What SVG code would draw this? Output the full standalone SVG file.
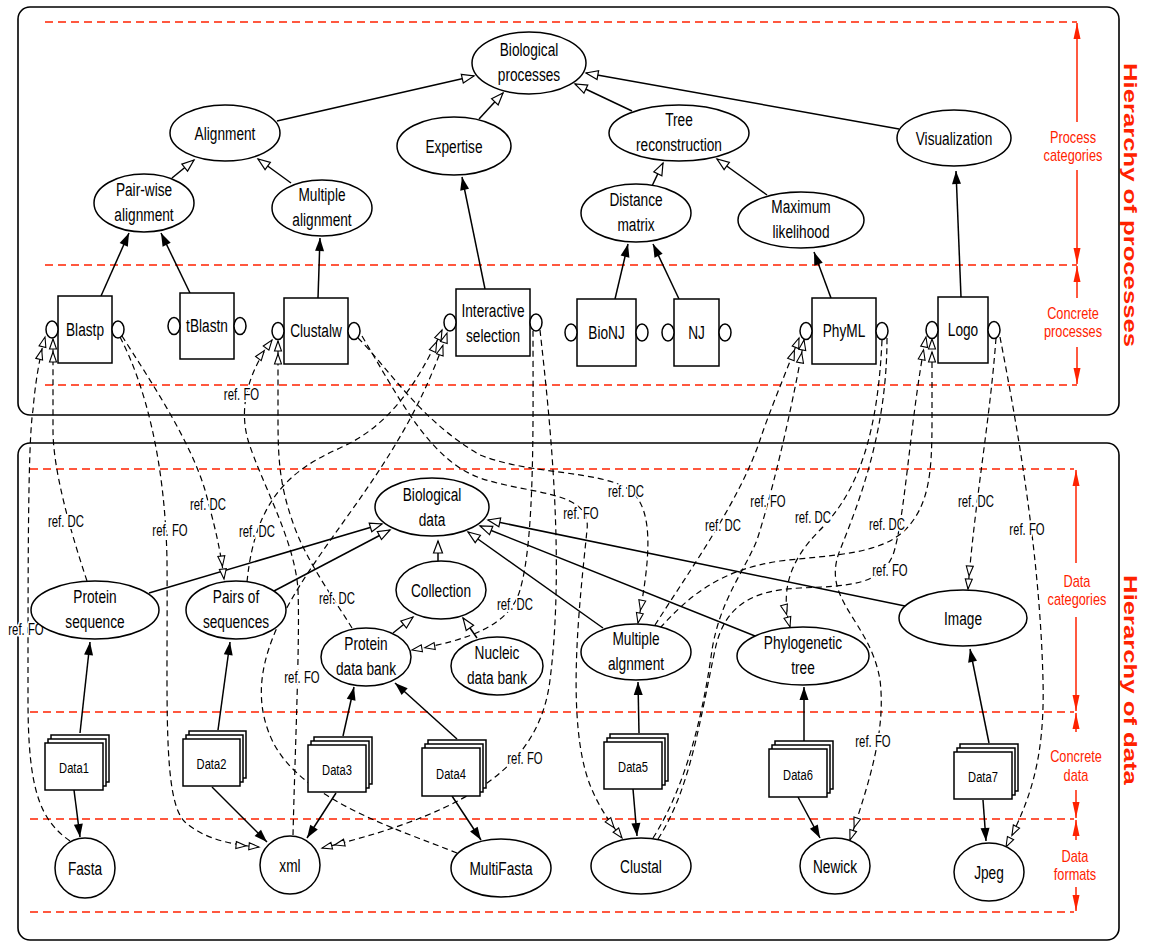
<svg xmlns="http://www.w3.org/2000/svg" width="1152" height="943" viewBox="0 0 1152 943">
<defs>
<style>
.frame{fill:none;stroke:#000;stroke-width:1.6}
.rl{stroke:#ff2200;stroke-width:1.6;stroke-dasharray:8 5;fill:none}
.ra{stroke:#ff2200;stroke-width:1.5;fill:none;marker-end:url(#ar)}
.nd ellipse,.nd rect{fill:#fff;stroke:#000;stroke-width:1.5}
.t{font-family:"Liberation Sans",Arial,sans-serif;font-size:19px;text-anchor:middle;fill:#000}
.dt{font-family:"Liberation Sans",Arial,sans-serif;font-size:15.5px;text-anchor:middle;fill:#000}
.lbl{font-family:"Liberation Sans",Arial,sans-serif;font-size:16px;text-anchor:middle;fill:#000;stroke:#fff;stroke-width:4;stroke-linejoin:round;paint-order:stroke}
.rt{font-family:"Liberation Sans",Arial,sans-serif;font-size:17px;text-anchor:middle;fill:#ff2200}
.big{font-family:"Liberation Sans",Arial,sans-serif;font-size:25.7px;font-weight:bold;text-anchor:middle;fill:#ff2200}
.ef{stroke:#000;stroke-width:1.5;fill:none;marker-end:url(#af)}
.eh{stroke:#000;stroke-width:1.5;fill:none;marker-end:url(#ah)}
.ed{stroke:#000;stroke-width:1.2;fill:none;stroke-dasharray:6 4;marker-end:url(#ad)}
</style>
<marker id="af" markerUnits="userSpaceOnUse" markerWidth="14" markerHeight="10" refX="13" refY="4.5" orient="auto" overflow="visible"><path d="M0,0 L13,4.5 L0,9 z" fill="#000"/></marker>
<marker id="ah" markerUnits="userSpaceOnUse" markerWidth="14" markerHeight="10" refX="13" refY="5" orient="auto" overflow="visible"><path d="M1,0.5 L13,5 L1,9.5 z" fill="#fff" stroke="#000" stroke-width="1.2"/></marker>
<marker id="ad" markerUnits="userSpaceOnUse" markerWidth="26" markerHeight="8" refX="24" refY="4" orient="auto" overflow="visible"><path d="M1,0.5 L11,4 L1,7.5 z M14,0.5 L24,4 L14,7.5 z" fill="#fff" stroke="#000" stroke-width="1.1"/></marker>
<marker id="ar" markerUnits="userSpaceOnUse" markerWidth="17" markerHeight="8" refX="16" refY="3.5" orient="auto" overflow="visible"><path d="M0,0 L16,3.5 L0,7 z" fill="#ff2200"/></marker>
</defs>
<rect width="1152" height="943" fill="#fff"/>

<g id="frames">
<rect class="frame" x="18" y="7" width="1101" height="408" rx="12"/>
<rect class="frame" x="18" y="443" width="1101" height="497" rx="12"/>
</g>

<g id="levels">
<path class="rl" d="M45,22 H1077 M45,265 H1077 M45,385 H1077"/>
<path class="rl" d="M30,469 H1074 M30,712 H1074 M30,819 H1074 M30,912 H1074"/>
<path class="ra" d="M1077,122 V23"/>
<path class="ra" d="M1077,170 V264"/>
<path class="ra" d="M1077,298 V266"/>
<path class="ra" d="M1077,347 V384"/>
<path class="ra" d="M1076,563 V470"/>
<path class="ra" d="M1076,617 V711"/>
<path class="ra" d="M1076,732 V713"/>
<path class="ra" d="M1076,790 V818"/>
<path class="ra" d="M1076,840 V820"/>
<path class="ra" d="M1076,887 V911"/>
<text class="rt" transform="translate(1073,0) scale(0.75,1)"><tspan x="0" y="143">Process</tspan><tspan x="0" y="161">categories</tspan></text>
<text class="rt" transform="translate(1073,0) scale(0.75,1)"><tspan x="0" y="319">Concrete</tspan><tspan x="0" y="337">processes</tspan></text>
<text class="rt" transform="translate(1077,0) scale(0.75,1)"><tspan x="0" y="587">Data</tspan><tspan x="0" y="605">categories</tspan></text>
<text class="rt" transform="translate(1076,0) scale(0.75,1)"><tspan x="0" y="762">Concrete</tspan><tspan x="0" y="781">data</tspan></text>
<text class="rt" transform="translate(1075,0) scale(0.75,1)"><tspan x="0" y="862">Data</tspan><tspan x="0" y="880">formats</tspan></text>
<text class="big" transform="translate(1124,205) rotate(90) scale(1,0.72)">Hierarchy of processes</text>
<text class="big" transform="translate(1124,680) rotate(90) scale(1,0.72)">Hierarchy of data</text>
</g>

<g id="connectors">
<path class="ef" d="M101,296 L129,233"/>
<path class="ef" d="M190,293 L161,233"/>
<path class="ef" d="M318,298 L320,238"/>
<path class="ef" d="M485,289 L462,177"/>
<path class="ef" d="M615,299 L628,244"/>
<path class="ef" d="M679,299 L653,244"/>
<path class="ef" d="M831,298 L814,252"/>
<path class="ef" d="M961,297 L956,171"/>
<path class="eh" d="M172,178 L194,160"/>
<path class="eh" d="M291,183 L258,159"/>
<path class="eh" d="M277,121 L474,76"/>
<path class="eh" d="M479,119 L503,93"/>
<path class="eh" d="M632,111 L575,84"/>
<path class="eh" d="M899,129 L586,73"/>
<path class="eh" d="M652,186 L663,163"/>
<path class="eh" d="M767,195 L717,159"/>
<path class="ef" d="M80,733 L90,642"/>
<path class="ef" d="M74,790 L80,837"/>
<path class="ef" d="M218,730 L230,642"/>
<path class="ef" d="M212,787 L267,842"/>
<path class="ef" d="M343,736 L354,687"/>
<path class="ef" d="M336,793 L307,838"/>
<path class="ef" d="M457,739 L395,683"/>
<path class="ef" d="M452,796 L481,840"/>
<path class="ef" d="M639,733 L638,682"/>
<path class="ef" d="M633,789 L637,836"/>
<path class="ef" d="M804,741 L804,687"/>
<path class="ef" d="M798,797 L820,838"/>
<path class="ef" d="M989,743 L970,649"/>
<path class="ef" d="M983,800 L986,841"/>
<path class="eh" d="M149,593 L382,524"/>
<path class="eh" d="M274,591 L390,530"/>
<path class="eh" d="M438,561 L438,541"/>
<path class="eh" d="M393,633 L413,617"/>
<path class="eh" d="M477,638 L463,618"/>
<path class="eh" d="M603,628 L468,532"/>
<path class="eh" d="M755,636 L480,526"/>
<path class="eh" d="M905,606 L488,520"/>
<path class="ed" d="M70,841 C40,820 28,790 28,700 C28,560 28,440 33,410 C35,385 39,360 45,337"/>
<path class="ed" d="M87,581 C70,530 53,470 53,430 L53,339"/>
<path class="ed" d="M120,337 C145,385 165,460 167,560 C168,700 162,800 185,822 C205,840 235,845 259,847"/>
<path class="ed" d="M122,336 C150,380 190,440 205,490 C213,520 220,545 224,579"/>
<path class="ed" d="M247,582 C255,500 290,470 340,448 C385,428 415,390 442,330"/>
<path class="ed" d="M457,853 C400,830 300,800 272,740 S275,620 320,555 S415,430 447,333"/>
<path class="ed" d="M293,835 C295,750 300,640 298,590 C295,540 260,480 248,440 C238,405 250,370 272,340"/>
<path class="ed" d="M352,628 C335,600 305,560 292,520 C280,485 278,460 278,420 L278,341"/>
<path class="ed" d="M358,338 C390,370 420,420 480,455 C530,475 600,470 630,490 C655,510 650,560 638,623"/>
<path class="ed" d="M362,336 C400,400 430,460 480,478 C530,495 592,490 587,530 C580,600 565,720 590,785 C600,810 612,825 622,838"/>
<path class="ed" d="M533,331 C533,420 535,540 520,590 C510,625 470,640 412,650"/>
<path class="ed" d="M540,330 C550,420 565,560 550,680 C540,760 480,810 322,848"/>
<path class="ed" d="M655,625 C690,570 740,500 760,440 C770,410 785,375 799,338"/>
<path class="ed" d="M653,838 C690,780 705,700 712,650 C720,600 745,570 757,540 C770,500 790,420 804,340"/>
<path class="ed" d="M658,839 C690,790 700,720 715,650 C725,600 760,590 800,588 C850,586 880,585 893,555 C905,520 910,420 926,337"/>
<path class="ed" d="M660,628 C690,595 720,570 780,561 C830,555 880,555 905,530 C930,505 932,470 932,420 L932,339"/>
<path class="ed" d="M882,340 C878,430 860,490 820,530 C790,560 780,590 790,627"/>
<path class="ed" d="M887,338 C887,430 860,500 840,550 C820,600 870,620 880,680 C886,730 870,780 850,840"/>
<path class="ed" d="M996,338 C990,420 975,500 968,589"/>
<path class="ed" d="M1000,337 C1020,440 1040,560 1043,680 C1045,760 1030,800 1006,847"/>
<text class="lbl" transform="translate(241.5,400) scale(0.71,1)">ref. FO</text>
<text class="lbl" transform="translate(66,527) scale(0.71,1)">ref. DC</text>
<text class="lbl" transform="translate(26,635) scale(0.71,1)">ref. FO</text>
<text class="lbl" transform="translate(170,536) scale(0.71,1)">ref. FO</text>
<text class="lbl" transform="translate(208,510) scale(0.71,1)">ref. DC</text>
<text class="lbl" transform="translate(257,537) scale(0.71,1)">ref. DC</text>
<text class="lbl" transform="translate(337,604) scale(0.71,1)">ref. DC</text>
<text class="lbl" transform="translate(302,683) scale(0.71,1)">ref. FO</text>
<text class="lbl" transform="translate(515,610) scale(0.71,1)">ref. DC</text>
<text class="lbl" transform="translate(525,764) scale(0.71,1)">ref. FO</text>
<text class="lbl" transform="translate(581,519) scale(0.71,1)">ref. FO</text>
<text class="lbl" transform="translate(626,497) scale(0.71,1)">ref. DC</text>
<text class="lbl" transform="translate(723,531) scale(0.71,1)">ref. DC</text>
<text class="lbl" transform="translate(768,507) scale(0.71,1)">ref. FO</text>
<text class="lbl" transform="translate(813,523) scale(0.71,1)">ref. DC</text>
<text class="lbl" transform="translate(887,530) scale(0.71,1)">ref. DC</text>
<text class="lbl" transform="translate(890,576) scale(0.71,1)">ref. FO</text>
<text class="lbl" transform="translate(873,747) scale(0.71,1)">ref. FO</text>
<text class="lbl" transform="translate(976,507) scale(0.71,1)">ref. DC</text>
<text class="lbl" transform="translate(1027,535) scale(0.71,1)">ref. FO</text>
</g>

<g id="n-bioproc" class="nd"><ellipse cx="529" cy="63" rx="57" ry="31"/><text class="t" transform="translate(529,0) scale(0.72,1)"><tspan x="0" y="56.5">Biological</tspan><tspan x="0" y="81.5">processes</tspan></text></g>
<g id="n-alignment" class="nd"><ellipse cx="225" cy="133" rx="55" ry="28"/><text class="t" transform="translate(225,140) scale(0.72,1)">Alignment</text></g>
<g id="n-expertise" class="nd"><ellipse cx="454" cy="146" rx="57" ry="29"/><text class="t" transform="translate(454,153) scale(0.72,1)">Expertise</text></g>
<g id="n-tree" class="nd"><ellipse cx="679" cy="133" rx="70" ry="28"/><text class="t" transform="translate(679,0) scale(0.72,1)"><tspan x="0" y="126.5">Tree</tspan><tspan x="0" y="151.5">reconstruction</tspan></text></g>
<g id="n-visualization" class="nd"><ellipse cx="954" cy="138" rx="57" ry="28"/><text class="t" transform="translate(954,145) scale(0.72,1)">Visualization</text></g>
<g id="n-pairwise" class="nd"><ellipse cx="144" cy="203" rx="50" ry="29"/><text class="t" transform="translate(144,0) scale(0.72,1)"><tspan x="0" y="196.5">Pair-wise</tspan><tspan x="0" y="221.5">alignment</tspan></text></g>
<g id="n-multalign-p" class="nd"><ellipse cx="322" cy="208" rx="50" ry="28"/><text class="t" transform="translate(322,0) scale(0.72,1)"><tspan x="0" y="201.5">Multiple</tspan><tspan x="0" y="226.5">alignment</tspan></text></g>
<g id="n-distance" class="nd"><ellipse cx="636" cy="213" rx="55" ry="29"/><text class="t" transform="translate(636,0) scale(0.72,1)"><tspan x="0" y="206.5">Distance</tspan><tspan x="0" y="231.5">matrix</tspan></text></g>
<g id="n-maxlik" class="nd"><ellipse cx="801" cy="220" rx="63" ry="28"/><text class="t" transform="translate(801,0) scale(0.72,1)"><tspan x="0" y="213.5">Maximum</tspan><tspan x="0" y="238.5">likelihood</tspan></text></g>

<g id="n-blastp" class="nd"><rect x="58" y="296" width="54" height="67"/><ellipse cx="52" cy="329.5" rx="6" ry="8.5"/><ellipse cx="118" cy="329.5" rx="6" ry="8.5"/><text class="t" transform="translate(85,335.5) scale(0.72,1)">Blastp</text></g>
<g id="n-tblastn" class="nd"><rect x="180" y="293" width="54" height="66"/><ellipse cx="174" cy="326" rx="6" ry="8.5"/><ellipse cx="240" cy="326" rx="6" ry="8.5"/><text class="t" transform="translate(207,332) scale(0.72,1)">tBlastn</text></g>
<g id="n-clustalw" class="nd"><rect x="284" y="298" width="64" height="66"/><ellipse cx="278" cy="331" rx="6" ry="8.5"/><ellipse cx="354" cy="331" rx="6" ry="8.5"/><text class="t" transform="translate(316,337) scale(0.72,1)">Clustalw</text></g>
<g id="n-interactive" class="nd"><rect x="456" y="289" width="74" height="67"/><ellipse cx="450" cy="322.5" rx="6" ry="8.5"/><ellipse cx="536" cy="322.5" rx="6" ry="8.5"/><text class="t" transform="translate(493,0) scale(0.72,1)"><tspan x="0" y="317">Interactive</tspan><tspan x="0" y="342">selection</tspan></text></g>
<g id="n-bionj" class="nd"><rect x="577" y="299" width="59" height="67"/><ellipse cx="571" cy="332.5" rx="6" ry="8.5"/><ellipse cx="642" cy="332.5" rx="6" ry="8.5"/><text class="t" transform="translate(606.5,338.5) scale(0.72,1)">BioNJ</text></g>
<g id="n-nj" class="nd"><rect x="674" y="299" width="45" height="67"/><ellipse cx="668" cy="332.5" rx="6" ry="8.5"/><ellipse cx="725" cy="332.5" rx="6" ry="8.5"/><text class="t" transform="translate(696.5,338.5) scale(0.72,1)">NJ</text></g>
<g id="n-phyml" class="nd"><rect x="812" y="298" width="64" height="66"/><ellipse cx="806" cy="331" rx="6" ry="8.5"/><ellipse cx="882" cy="331" rx="6" ry="8.5"/><text class="t" transform="translate(844,337) scale(0.72,1)">PhyML</text></g>
<g id="n-logo" class="nd"><rect x="938" y="297" width="50" height="66"/><ellipse cx="932" cy="330" rx="6" ry="8.5"/><ellipse cx="994" cy="330" rx="6" ry="8.5"/><text class="t" transform="translate(963,336) scale(0.72,1)">Logo</text></g>

<g id="n-biodata" class="nd"><ellipse cx="432" cy="507" rx="57" ry="29"/><text class="t" transform="translate(432,0) scale(0.72,1)"><tspan x="0" y="501.5">Biological</tspan><tspan x="0" y="526.5">data</tspan></text></g>
<g id="n-protseq" class="nd"><ellipse cx="95" cy="610" rx="64" ry="29"/><text class="t" transform="translate(95,0) scale(0.72,1)"><tspan x="0" y="603.5">Protein</tspan><tspan x="0" y="628.5">sequence</tspan></text></g>
<g id="n-pairs" class="nd"><ellipse cx="236" cy="610" rx="50" ry="29"/><text class="t" transform="translate(236,0) scale(0.72,1)"><tspan x="0" y="603.5">Pairs of</tspan><tspan x="0" y="628.5">sequences</tspan></text></g>
<g id="n-collection" class="nd"><ellipse cx="441" cy="590" rx="45" ry="29"/><text class="t" transform="translate(441,597) scale(0.72,1)">Collection</text></g>
<g id="n-pdb" class="nd"><ellipse cx="366" cy="657" rx="45" ry="29"/><text class="t" transform="translate(366,0) scale(0.72,1)"><tspan x="0" y="650.5">Protein</tspan><tspan x="0" y="675.5">data bank</tspan></text></g>
<g id="n-ndb" class="nd"><ellipse cx="497" cy="666" rx="46" ry="29"/><text class="t" transform="translate(497,0) scale(0.72,1)"><tspan x="0" y="659.5">Nucleic</tspan><tspan x="0" y="684.5">data bank</tspan></text></g>
<g id="n-multalign-d" class="nd"><ellipse cx="636" cy="652" rx="55" ry="28"/><text class="t" transform="translate(636,0) scale(0.72,1)"><tspan x="0" y="645.5">Multiple</tspan><tspan x="0" y="670.5">algnment</tspan></text></g>
<g id="n-phylo" class="nd"><ellipse cx="803" cy="656" rx="66" ry="29"/><text class="t" transform="translate(803,0) scale(0.72,1)"><tspan x="0" y="649.5">Phylogenetic</tspan><tspan x="0" y="674.5">tree</tspan></text></g>
<g id="n-image" class="nd"><ellipse cx="963" cy="618" rx="64" ry="28"/><text class="t" transform="translate(963,625) scale(0.72,1)">Image</text></g>

<g id="n-data1" class="nd"><rect x="51" y="735" width="58" height="47"/><rect x="48" y="739" width="58" height="47"/><rect x="45" y="743" width="58" height="47"/><text class="dt" transform="translate(74,773) scale(0.72,1)">Data1</text></g>
<g id="n-data2" class="nd"><rect x="189" y="731" width="57" height="47"/><rect x="186" y="735" width="57" height="47"/><rect x="183" y="739" width="57" height="47"/><text class="dt" transform="translate(211.5,769) scale(0.72,1)">Data2</text></g>
<g id="n-data3" class="nd"><rect x="314" y="737" width="58" height="47"/><rect x="311" y="741" width="58" height="47"/><rect x="308" y="745" width="58" height="47"/><text class="dt" transform="translate(337,775) scale(0.72,1)">Data3</text></g>
<g id="n-data4" class="nd"><rect x="428" y="740" width="58" height="48"/><rect x="425" y="744" width="58" height="48"/><rect x="422" y="748" width="58" height="48"/><text class="dt" transform="translate(451,778.5) scale(0.72,1)">Data4</text></g>
<g id="n-data5" class="nd"><rect x="610" y="734" width="58" height="47"/><rect x="607" y="738" width="58" height="47"/><rect x="604" y="742" width="58" height="47"/><text class="dt" transform="translate(633,772) scale(0.72,1)">Data5</text></g>
<g id="n-data6" class="nd"><rect x="775" y="741" width="58" height="48"/><rect x="772" y="745" width="58" height="48"/><rect x="769" y="749" width="58" height="48"/><text class="dt" transform="translate(798,779.5) scale(0.72,1)">Data6</text></g>
<g id="n-data7" class="nd"><rect x="960" y="744" width="58" height="47"/><rect x="957" y="748" width="58" height="47"/><rect x="954" y="752" width="58" height="47"/><text class="dt" transform="translate(983,782) scale(0.72,1)">Data7</text></g>

<g id="n-fasta" class="nd"><ellipse cx="85" cy="868" rx="30" ry="30"/><text class="t" transform="translate(85,875) scale(0.72,1)">Fasta</text></g>
<g id="n-xml" class="nd"><ellipse cx="290" cy="865" rx="30" ry="29"/><text class="t" transform="translate(290,872) scale(0.72,1)">xml</text></g>
<g id="n-multifasta" class="nd"><ellipse cx="501" cy="868" rx="50" ry="29"/><text class="t" transform="translate(501,875) scale(0.72,1)">MultiFasta</text></g>
<g id="n-clustal" class="nd"><ellipse cx="641" cy="866" rx="50" ry="28"/><text class="t" transform="translate(641,873) scale(0.72,1)">Clustal</text></g>
<g id="n-newick" class="nd"><ellipse cx="835" cy="866" rx="35" ry="28"/><text class="t" transform="translate(835,873) scale(0.72,1)">Newick</text></g>
<g id="n-jpeg" class="nd"><ellipse cx="989" cy="872" rx="35" ry="29"/><text class="t" transform="translate(989,879) scale(0.72,1)">Jpeg</text></g>
</svg>
